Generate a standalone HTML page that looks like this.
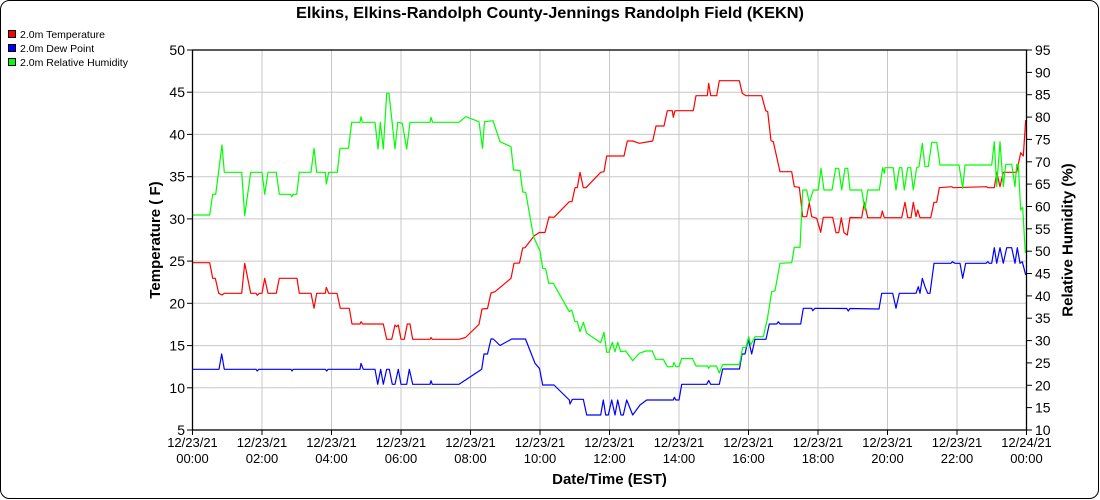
<!DOCTYPE html>
<html><head><meta charset="utf-8"><style>
html,body{margin:0;padding:0;background:#fff;}
svg{display:block;font-family:"Liberation Sans",Arial,sans-serif;}
</style></head><body>
<svg width="1100" height="500" viewBox="0 0 1100 500" xmlns="http://www.w3.org/2000/svg">
<rect x="0.5" y="0.5" width="1098" height="498" rx="9" ry="9" fill="#fff" stroke="#000" stroke-width="1"/>
<text x="550" y="18" text-anchor="middle" font-size="16" font-weight="bold" textLength="508" lengthAdjust="spacingAndGlyphs">Elkins, Elkins-Randolph County-Jennings Randolph Field (KEKN)</text>
<!-- legend -->
<rect x="8.5" y="30.5" width="7" height="7" fill="#f00" stroke="#000"/>
<rect x="8.5" y="44.5" width="7" height="7" fill="#00f" stroke="#000"/>
<rect x="8.5" y="58.5" width="7" height="7" fill="#0f0" stroke="#000"/>
<g font-size="10.5" fill="#000">
<text x="20" y="38">2.0m Temperature</text>
<text x="20" y="52">2.0m Dew Point</text>
<text x="20" y="66">2.0m Relative Humidity</text>
</g>
<!-- grid -->
<g stroke="#c8c8c8" stroke-width="1">
<line x1="192.5" y1="92.2" x2="1026.5" y2="92.2"/>
<line x1="192.5" y1="134.4" x2="1026.5" y2="134.4"/>
<line x1="192.5" y1="176.7" x2="1026.5" y2="176.7"/>
<line x1="192.5" y1="218.9" x2="1026.5" y2="218.9"/>
<line x1="192.5" y1="261.1" x2="1026.5" y2="261.1"/>
<line x1="192.5" y1="303.3" x2="1026.5" y2="303.3"/>
<line x1="192.5" y1="345.6" x2="1026.5" y2="345.6"/>
<line x1="192.5" y1="387.8" x2="1026.5" y2="387.8"/>
<line x1="262" y1="50" x2="262" y2="430"/>
<line x1="331.5" y1="50" x2="331.5" y2="430"/>
<line x1="401" y1="50" x2="401" y2="430"/>
<line x1="470.5" y1="50" x2="470.5" y2="430"/>
<line x1="540" y1="50" x2="540" y2="430"/>
<line x1="609.5" y1="50" x2="609.5" y2="430"/>
<line x1="679" y1="50" x2="679" y2="430"/>
<line x1="748.5" y1="50" x2="748.5" y2="430"/>
<line x1="818" y1="50" x2="818" y2="430"/>
<line x1="887.5" y1="50" x2="887.5" y2="430"/>
<line x1="957" y1="50" x2="957" y2="430"/>
</g>
<!-- series -->
<g fill="none" stroke-width="1.2" stroke-linejoin="round">
<polyline stroke="#ff0000" points="192.5,262.7 209.7,262.7 212.7,278.3 215.3,278.3 218.7,293.3 222,295 224.3,293.3 241.7,293.3 244.7,263.3 250.7,293.3 256,293.3 257.3,295.3 259.3,293.3 262,293.3 264.7,278.3 268,293.3 276.3,293.3 279.3,278.3 297,278.3 299.3,293.3 311,293.3 314,308.3 316.7,293.3 325.3,293.3 326.3,287.3 328.7,293.3 337,293.3 340.3,308.3 349.3,308.3 352,324 360,324 361,321.7 362.7,324 383.3,324 386.7,339.3 391.7,339.3 395,325 396.7,326.7 398.3,325 401,339.3 404.3,339.3 407.3,324 410,324 412.7,339.3 430,339.3 431,337.5 432.3,339.3 459,339.3 465.5,337.5 479,324.3 482,309 487.5,308.5 491,293 495,291.7 511,278.3 514,263.3 519.5,263 522.7,248 525,247.7 534,236 539.3,232.5 545,232.5 549,217 554,217.3 569.3,201.7 572,201.7 575,187.7 577.3,187.7 580,172.3 583.3,187.7 586,187.7 600.7,172.3 604,171.7 606.7,156 624,156 627.3,141 632.7,141 639.3,143.3 652.7,141 656,126 664,126 667.3,110.7 672.3,110.7 673.3,117.3 675,110.7 693.3,110.7 696,95.7 707.3,95.7 708.7,83.3 710.7,95.7 716.7,95.7 719.3,80.7 739.3,80.7 742.3,93.3 743.3,94 746,95.7 761.7,95.7 765.7,110.7 767.7,111.7 771,140.7 773.3,141.7 780,171.7 791.7,171.7 794.3,186.7 799.3,187.3 802.7,216.7 806.7,216.7 809.3,202.7 811.7,216.7 816.7,218.3 820.7,232.3 823.3,217.3 832.7,217.3 836,232.7 838.7,232.7 841.3,217.7 844,232.7 847.3,235 850,217.5 861.7,217.7 864.3,202.3 867.7,217.7 880.7,217.7 882.3,211 884.3,217.7 901.7,217.7 905,202.3 907.7,217.7 911,217.7 913.3,202.3 916,216.7 917.7,210 920,217.7 930.7,217.7 934,202.3 936.7,202.3 939.3,187.7 951.7,186.7 953.3,187.7 986.7,186.7 987.7,187.7 994.3,187.7 996.7,172.3 1000,186.7 1003.3,172.3 1016.7,172.3 1020.7,152.7 1023.3,156 1025.7,120"/>
<polyline stroke="#0000ff" points="192.5,369.3 219,369.3 221.7,354 224.3,369.3 256,369.3 257.3,371 258.7,369.3 291,369.3 292,371 293.3,369.3 325.3,369.3 326.7,371 328,369.3 360,369.3 361,363.3 363.3,369.3 375,369.3 377.7,384.3 380.7,369.3 383.3,384.3 386.7,369.3 389.3,369.3 392.3,384.3 395,384.3 398.3,369.3 401,384.3 406.7,384.3 409.3,369.3 412.7,384.3 430,384.3 431,380.7 432.3,384.3 459,384.3 481.7,369.3 484,354 487.5,354 491,339 493.3,339 500,345.5 511.7,339 525.5,339 535,363.3 539.5,368.5 542.7,385 554,385 569.3,400 570,404 572.3,399.3 583.3,399.3 586.7,415 600.7,415 603.3,400 605.7,415 608.3,415 611.7,400 615,415 617.7,400 621,415 623.3,415 626.7,400 632.7,415 640,405 646.7,400 673.3,400 674.3,397.3 676,400 679,400 681.7,384.3 706.7,384.3 708.7,380.5 710.7,384.3 719.3,384.3 722.7,369 739.5,369 742,354 745,354 748.3,339.3 751.7,354 755,339.3 766,339.3 769.3,324 776.7,324 778.3,321.7 780,324 800.7,324 803.3,308.3 811.7,308.3 812.7,310.7 815,308.3 846.7,308.5 848.3,311 850,308.5 879,309 881.7,293.3 892.7,293.3 896,308.3 899.3,293.3 916,293.3 918.3,286.7 920,293.3 922.3,278.3 925,286.7 927.7,293.3 930,293.3 934,263.3 951,263.3 952.3,261.7 955,263.3 960,263.3 962.7,278.3 965.7,263.3 986,263.3 987.7,261.7 989.3,263.3 991.7,263.3 994.3,247.7 996.7,263.3 1000,247.7 1003.3,263.3 1006.7,247.7 1011.7,247.7 1015,263.3 1017.3,247.7 1020,263.3 1022.3,261.7 1025.7,275"/>
<polyline stroke="#00ff00" points="192.5,215 209.7,215 212.7,194.3 215.7,194.3 222,145 224.3,172.3 241.7,172.3 244.7,215.7 250.7,172.3 262,172.3 264.7,194.3 268,172.3 276.3,172.3 279.3,194.3 290.7,194.3 291.7,196.7 293,194.3 296.7,194.3 299.3,172.3 311,172.3 314,148.3 316.7,172.3 325.3,172.3 326.3,184 328.7,172.3 337.3,172.3 340,148.3 348.5,148.3 351.7,122.3 360,122.3 361,116.7 362.3,122.3 375,122.3 378,149 380.3,122.3 383.3,149 386.7,93.3 389,93.3 395,149 397.7,122.3 402.3,123.3 406.7,149 410,122.3 430,122.3 431,117.3 432.7,122.3 459,122.3 465.7,116.7 479,121.7 482.5,148.3 484.5,121.7 493,120.7 500,141.7 511,146.7 513.5,170 520,170.5 522.7,192 525.7,192.3 533.5,236.7 540,251 542.7,268.3 545.7,269 548.7,283.3 553.3,283.3 569.3,311.7 571.7,310 575,321.7 577.3,321.7 580,331.7 583.3,322.3 586.7,333.3 600.7,342.7 604,332.3 606.7,352.3 609,352.3 612.3,342.3 615,351.7 617.7,342.3 620.7,351.7 625.7,351 632.7,360.7 639.3,353.3 645.7,351 652.3,351 655.7,359.3 663.3,359.3 667.3,366.7 672.7,366.7 674,362.5 676,366.7 679,366.7 681.7,358.5 692.5,358.5 696,366 707.5,366 708.7,368.3 710,366 716.5,366 719.3,373 722.7,364.5 739.5,364.5 742.7,347.3 746,347.3 748.7,336.7 750.7,345 755,336.7 763.3,336.7 767.3,319.3 771.7,291.7 775,290.7 780,263.3 791.7,262.7 794.3,247.3 800,247.3 802.7,190 806.7,190 809.3,202.7 813.3,190 818.3,190 821,168.3 824,190 832,190 835.7,168.3 838.7,168.3 841.7,190 845,168.3 847.7,168.3 850,190 861.7,190 865,210 867.7,190 879.3,190 882.7,167.7 884.3,173.3 885,167.7 893.3,167.7 896,190 899.3,167.7 901.7,167.7 904.3,190 907.7,167.7 910.7,167.7 913.3,190 916.7,167.7 919,166.7 922.3,143.3 925,166.7 928.3,166.7 931.7,142.3 936.7,142.3 940,165 959,165 962.7,188.3 965,165 991.7,165 994.3,141.7 996.7,186.7 1000,141.7 1003.3,186.7 1005.7,164.3 1011.7,164.3 1015,186.7 1016.7,164.3 1018.3,164.3 1020.7,210 1022.7,207.3 1025.3,253"/>
</g>
<!-- plot frame -->
<rect x="192.5" y="50" width="834" height="380" fill="none" stroke="#000" stroke-width="1.3"/>
<!-- left ticks -->
<g stroke="#000" stroke-width="1">
<line x1="187" y1="50" x2="192.5" y2="50"/>
<line x1="187" y1="92.2" x2="192.5" y2="92.2"/>
<line x1="187" y1="134.4" x2="192.5" y2="134.4"/>
<line x1="187" y1="176.7" x2="192.5" y2="176.7"/>
<line x1="187" y1="218.9" x2="192.5" y2="218.9"/>
<line x1="187" y1="261.1" x2="192.5" y2="261.1"/>
<line x1="187" y1="303.3" x2="192.5" y2="303.3"/>
<line x1="187" y1="345.6" x2="192.5" y2="345.6"/>
<line x1="187" y1="387.8" x2="192.5" y2="387.8"/>
<line x1="187" y1="430" x2="192.5" y2="430"/>
</g>
<g font-size="14" text-anchor="end">
<text x="185" y="55">50</text>
<text x="185" y="97.2">45</text>
<text x="185" y="139.4">40</text>
<text x="185" y="181.7">35</text>
<text x="185" y="223.9">30</text>
<text x="185" y="266.1">25</text>
<text x="185" y="308.3">20</text>
<text x="185" y="350.6">15</text>
<text x="185" y="392.8">10</text>
<text x="185" y="435">5</text>
</g>
<!-- right ticks -->
<g stroke="#000" stroke-width="1">
<line x1="1026.5" y1="50" x2="1032" y2="50"/>
<line x1="1026.5" y1="72.4" x2="1032" y2="72.4"/>
<line x1="1026.5" y1="94.7" x2="1032" y2="94.7"/>
<line x1="1026.5" y1="117.1" x2="1032" y2="117.1"/>
<line x1="1026.5" y1="139.4" x2="1032" y2="139.4"/>
<line x1="1026.5" y1="161.8" x2="1032" y2="161.8"/>
<line x1="1026.5" y1="184.1" x2="1032" y2="184.1"/>
<line x1="1026.5" y1="206.5" x2="1032" y2="206.5"/>
<line x1="1026.5" y1="228.8" x2="1032" y2="228.8"/>
<line x1="1026.5" y1="251.2" x2="1032" y2="251.2"/>
<line x1="1026.5" y1="273.5" x2="1032" y2="273.5"/>
<line x1="1026.5" y1="295.9" x2="1032" y2="295.9"/>
<line x1="1026.5" y1="318.2" x2="1032" y2="318.2"/>
<line x1="1026.5" y1="340.6" x2="1032" y2="340.6"/>
<line x1="1026.5" y1="362.9" x2="1032" y2="362.9"/>
<line x1="1026.5" y1="385.3" x2="1032" y2="385.3"/>
<line x1="1026.5" y1="407.6" x2="1032" y2="407.6"/>
<line x1="1026.5" y1="430" x2="1032" y2="430"/>
</g>
<g font-size="14" text-anchor="start">
<text x="1035" y="55">95</text>
<text x="1035" y="77.4">90</text>
<text x="1035" y="99.7">85</text>
<text x="1035" y="122.1">80</text>
<text x="1035" y="144.4">75</text>
<text x="1035" y="166.8">70</text>
<text x="1035" y="189.1">65</text>
<text x="1035" y="211.5">60</text>
<text x="1035" y="233.8">55</text>
<text x="1035" y="256.2">50</text>
<text x="1035" y="278.5">45</text>
<text x="1035" y="300.9">40</text>
<text x="1035" y="323.2">35</text>
<text x="1035" y="345.6">30</text>
<text x="1035" y="367.9">25</text>
<text x="1035" y="390.3">20</text>
<text x="1035" y="412.6">15</text>
<text x="1035" y="435">10</text>
</g>
<!-- x ticks -->
<g stroke="#000" stroke-width="1">
<line x1="192.5" y1="430" x2="192.5" y2="435"/>
<line x1="262" y1="430" x2="262" y2="435"/>
<line x1="331.5" y1="430" x2="331.5" y2="435"/>
<line x1="401" y1="430" x2="401" y2="435"/>
<line x1="470.5" y1="430" x2="470.5" y2="435"/>
<line x1="540" y1="430" x2="540" y2="435"/>
<line x1="609.5" y1="430" x2="609.5" y2="435"/>
<line x1="679" y1="430" x2="679" y2="435"/>
<line x1="748.5" y1="430" x2="748.5" y2="435"/>
<line x1="818" y1="430" x2="818" y2="435"/>
<line x1="887.5" y1="430" x2="887.5" y2="435"/>
<line x1="957" y1="430" x2="957" y2="435"/>
<line x1="1026.5" y1="430" x2="1026.5" y2="435"/>
</g>
<g font-size="13" text-anchor="middle">
<text x="192.5" y="447">12/23/21</text><text x="192.5" y="463">00:00</text>
<text x="262" y="447">12/23/21</text><text x="262" y="463">02:00</text>
<text x="331.5" y="447">12/23/21</text><text x="331.5" y="463">04:00</text>
<text x="401" y="447">12/23/21</text><text x="401" y="463">06:00</text>
<text x="470.5" y="447">12/23/21</text><text x="470.5" y="463">08:00</text>
<text x="540" y="447">12/23/21</text><text x="540" y="463">10:00</text>
<text x="609.5" y="447">12/23/21</text><text x="609.5" y="463">12:00</text>
<text x="679" y="447">12/23/21</text><text x="679" y="463">14:00</text>
<text x="748.5" y="447">12/23/21</text><text x="748.5" y="463">16:00</text>
<text x="818" y="447">12/23/21</text><text x="818" y="463">18:00</text>
<text x="887.5" y="447">12/23/21</text><text x="887.5" y="463">20:00</text>
<text x="957" y="447">12/23/21</text><text x="957" y="463">22:00</text>
<text x="1026.5" y="447">12/24/21</text><text x="1026.5" y="463">00:00</text>
</g>
<!-- axis titles -->
<text x="609.5" y="484" text-anchor="middle" font-size="15" font-weight="bold">Date/Time (EST)</text>
<text transform="translate(160,240) rotate(-90)" text-anchor="middle" font-size="15" font-weight="bold">Temperature ( F)</text>
<text transform="translate(1072.5,240) rotate(-90)" text-anchor="middle" font-size="15" font-weight="bold">Relative Humidity (%)</text>
</svg>
</body></html>
